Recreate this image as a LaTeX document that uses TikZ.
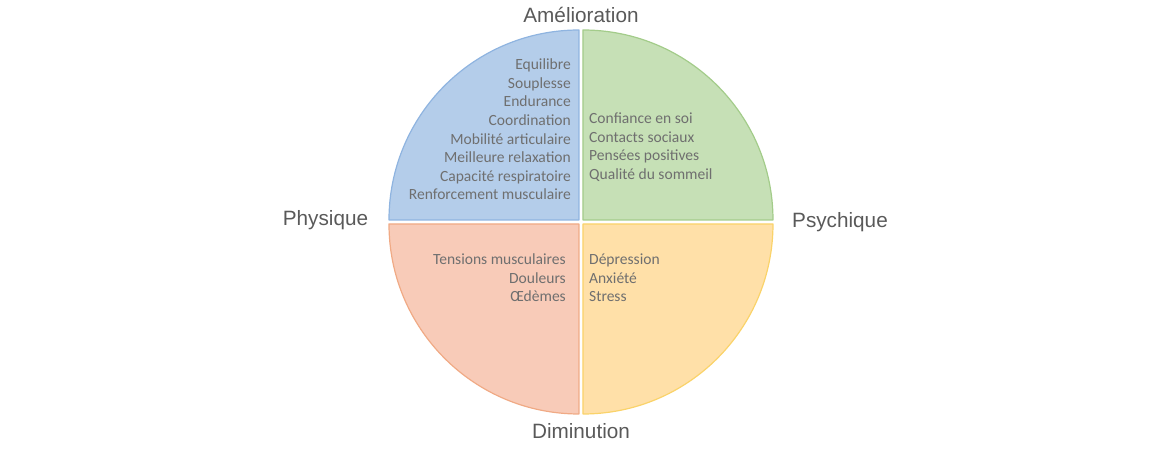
\documentclass[tikz,border=0pt]{standalone}
\usepackage{fontspec}
\setmainfont{Carlito}
\newfontfamily\labelfont{Liberation Sans}
\usetikzlibrary{positioning}
\definecolor{bluefill}{HTML}{B4CDEA}
\definecolor{blueline}{HTML}{8FB4E0}
\definecolor{greenfill}{HTML}{C6E0B6}
\definecolor{greenline}{HTML}{A3CC8A}
\definecolor{redfill}{HTML}{F8CBB8}
\definecolor{redline}{HTML}{F0AA85}
\definecolor{yellowfill}{HTML}{FFE0A8}
\definecolor{yellowline}{HTML}{FAD36A}
\definecolor{itemgray}{HTML}{6F6F6F}
\definecolor{labelgray}{HTML}{595959}

\begin{document}
\begin{tikzpicture}[x=1bp, y=1bp,
	quad/.style={line width=1.2bp, line join=round},
	items/.style={inner sep=0pt, text=itemgray, font=\fontsize{15.6}{18.7}\selectfont},
	side/.style={inner sep=0pt, text=labelgray, font=\labelfont\fontsize{20.8}{24}\selectfont}
	]
	\path[use as bounding box] (-581,-234) rectangle (589,222);
	% quarters
	\filldraw[quad, fill=bluefill, draw=blueline] (-2,2) -- (-192,2) arc[start angle=180, end angle=90, radius=190] -- cycle;
	\filldraw[quad, fill=greenfill, draw=greenline] (2,2) -- (2,192) arc[start angle=90, end angle=0, radius=190] -- cycle;
	\filldraw[quad, fill=redfill, draw=redline] (-2,-2) -- (-2,-192) arc[start angle=270, end angle=180, radius=190] -- cycle;
	\filldraw[quad, fill=yellowfill, draw=yellowline] (2,-2) -- (192,-2) arc[start angle=0, end angle=-90, radius=190] -- cycle;
	% items
	\node[items, anchor=north east, align=right] (physplus) at (-10,163.5)
	{Equilibre\\Souplesse\\Endurance\\Coordination\\Mobilité articulaire\\Meilleure relaxation\\Capacité respiratoire\\Renforcement musculaire};
	\node[items, anchor=north west, align=left] (psyplus) at (8,109.5)
	{Confiance en soi\\Contacts sociaux\\Pensées positives\\Qualité du sommeil};
	\node[items, anchor=north east, align=right] (physminus) at (-15,-31.5)
	{Tensions musculaires\\Douleurs\\Œdèmes};
	\node[items, anchor=north west, align=left] (psyminus) at (8,-31.5)
	{Dépression\\Anxiété\\Stress};
	% labels
	\node[side] (plus) at (0,207) {Amélioration};
	\node[side] (minus) at (0,-209) {Diminution};
	\node[side] (phys) at (-255.5,2) {Physique};
	\node[side] (psy) at (259,0) {Psychique};
\end{tikzpicture}
\end{document}
